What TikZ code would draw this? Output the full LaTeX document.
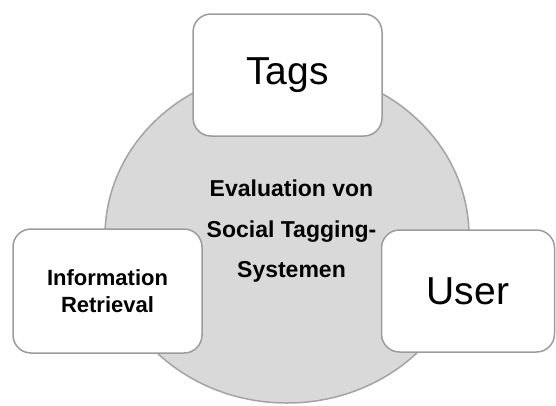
\documentclass[tikz,border=0pt]{standalone}
\usepackage{fontspec}
\setmainfont{Liberation Sans}
\usetikzlibrary{shapes.geometric}
\definecolor{hubfill}{HTML}{D9D9D9}
\definecolor{hubline}{HTML}{A3A3A3}
\definecolor{boxline}{HTML}{9C9C9C}
\tikzset{
  hub/.style={ellipse, draw=hubline, fill=hubfill, line width=1.5pt,
    inner sep=0pt, minimum width=364pt, minimum height=334pt},
  topic/.style={rectangle, draw=boxline, fill=white, line width=1.5pt,
    rounded corners=18pt, inner sep=0pt, align=center, text=black},
  bigtopic/.style={topic, font=\fontsize{39}{44}\selectfont},
  smalltopic/.style={topic, font=\bfseries\fontsize{22}{27.7}\selectfont},
  hubtext/.style={align=center, inner sep=0pt,
    font=\bfseries\fontsize{23}{40.5}\selectfont}
}
\begin{document}
\begin{tikzpicture}[x=1pt,y=-1pt]
  \useasboundingbox (0,0) rectangle (556,405);
  % central disc
  \node[hub] (hub) at (287,236) {};
  \node[hubtext] (hubtitle) at (291.5,231.3)
    {Evaluation von\\Social Tagging-\\Systemen};
  % surrounding topics
  \node[bigtopic, minimum width=189pt, minimum height=122pt]
    (tags) at (287.5,75) {Tags};
  \node[smalltopic, minimum width=189pt, minimum height=124pt]
    (ir) at (107.5,291) {Information\\Retrieval};
  \node[bigtopic, minimum width=173pt, minimum height=122pt]
    (user) at (468,291) {User};
\end{tikzpicture}
\end{document}
